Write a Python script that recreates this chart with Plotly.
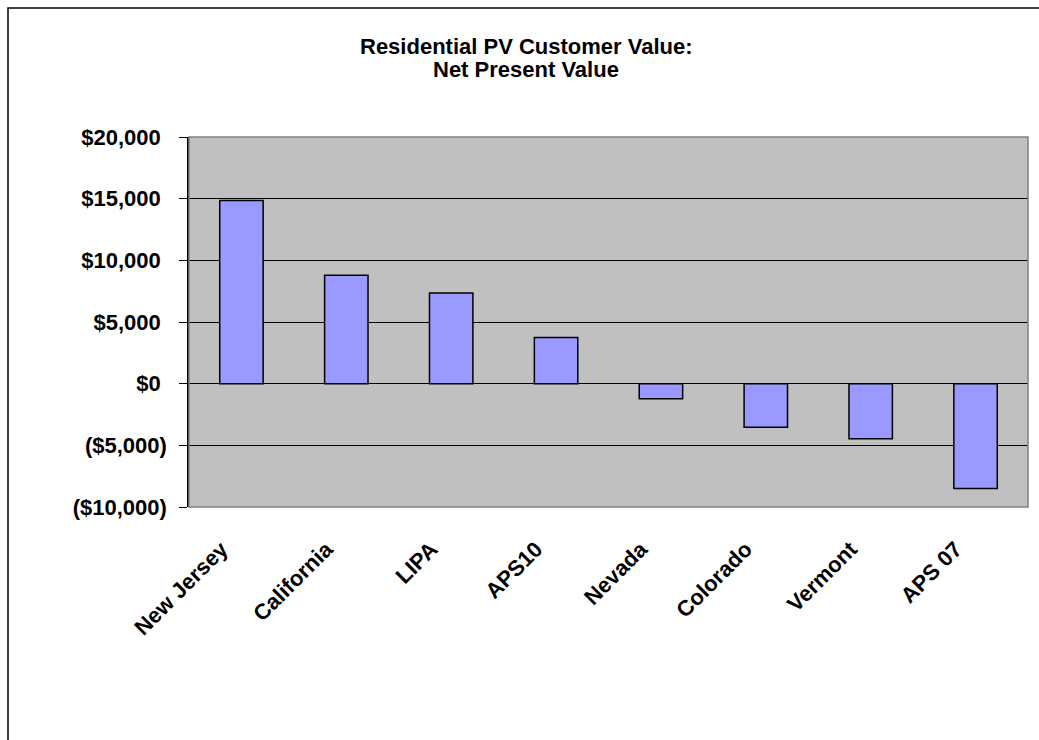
import plotly.graph_objects as go

# Net present value of a residential PV system, by program
programs = ["New Jersey", "California", "LIPA", "APS10", "Nevada", "Colorado", "Vermont", "APS 07"]
npv_dollars = [14850, 8800, 7350, 3740, -1220, -3530, -4470, -8490]

# accounting-style labels: positives padded so digits line up with the ")" of negatives
tick_values = [20000, 15000, 10000, 5000, 0, -5000, -10000]
tick_labels = ["$20,000\u00a0", "$15,000\u00a0", "$10,000\u00a0", "$5,000\u00a0", "$0\u00a0",
               "($5,000)", "($10,000)"]

W, H = 1039, 740
L, R, T, B = 189, 11, 137, 233
plot_w = W - L - R
plot_h = H - T - B

FONT = "Liberation Sans, Arial, sans-serif"

fig = go.Figure(
    go.Bar(
        x=programs,
        y=npv_dollars,
        marker=dict(color="#9999FF", line=dict(color="#000000", width=1.5)),
        hoverinfo="x+y",
    )
)


def px_x(p):
    return (p - L) / plot_w


def px_y(p):
    return (H - B - p) / plot_h


title_font = dict(family=FONT, size=22, weight=700, color="#000000")

fig.update_layout(
    width=W,
    height=H,
    margin=dict(l=L, r=R, t=T, b=B, autoexpand=False),
    paper_bgcolor="#FFFFFF",
    plot_bgcolor="#C0C0C0",
    bargap=0.586,
    showlegend=False,
    font=dict(family=FONT, size=20, color="#000000", weight=700),
    xaxis=dict(
        tickangle=-45,
        tickfont=dict(family=FONT, size=22, weight=700),
        showgrid=False,
        showline=False,
        ticks="",
        ticklabelstandoff=24,
        ticklabelshift=-20,
        fixedrange=True,
    ),
    yaxis=dict(
        range=[-10000, 20000],
        tickvals=tick_values,
        ticktext=tick_labels,
        tickfont=dict(family=FONT, size=22, weight=700),
        showgrid=True,
        gridcolor="#000000",
        gridwidth=1,
        zeroline=False,
        showline=True,
        linecolor="#000000",
        linewidth=1.5,
        ticks="outside",
        ticklen=8,
        tickcolor="#000000",
        ticklabelstandoff=8,
        fixedrange=True,
    ),
    annotations=[
        dict(text="Residential PV Customer Value:", xref="paper", yref="paper",
             x=px_x(526), y=px_y(46), xanchor="center", yanchor="middle",
             showarrow=False, font=title_font),
        dict(text="Net Present Value", xref="paper", yref="paper",
             x=px_x(526), y=px_y(69), xanchor="center", yanchor="middle",
             showarrow=False, font=title_font),
    ],
    shapes=[
        # frame around the plotting area
        dict(type="rect", xref="paper", yref="paper", x0=0, y0=0, x1=1, y1=1,
             line=dict(color="#808080", width=1.5), layer="above"),
        # outer chart border
        dict(type="rect", xref="paper", yref="paper",
             x0=px_x(8), y0=px_y(760), x1=px_x(1060), y1=px_y(8),
             line=dict(color="#000000", width=1.5), layer="below"),
    ],
)

fig.write_html("out.html")
